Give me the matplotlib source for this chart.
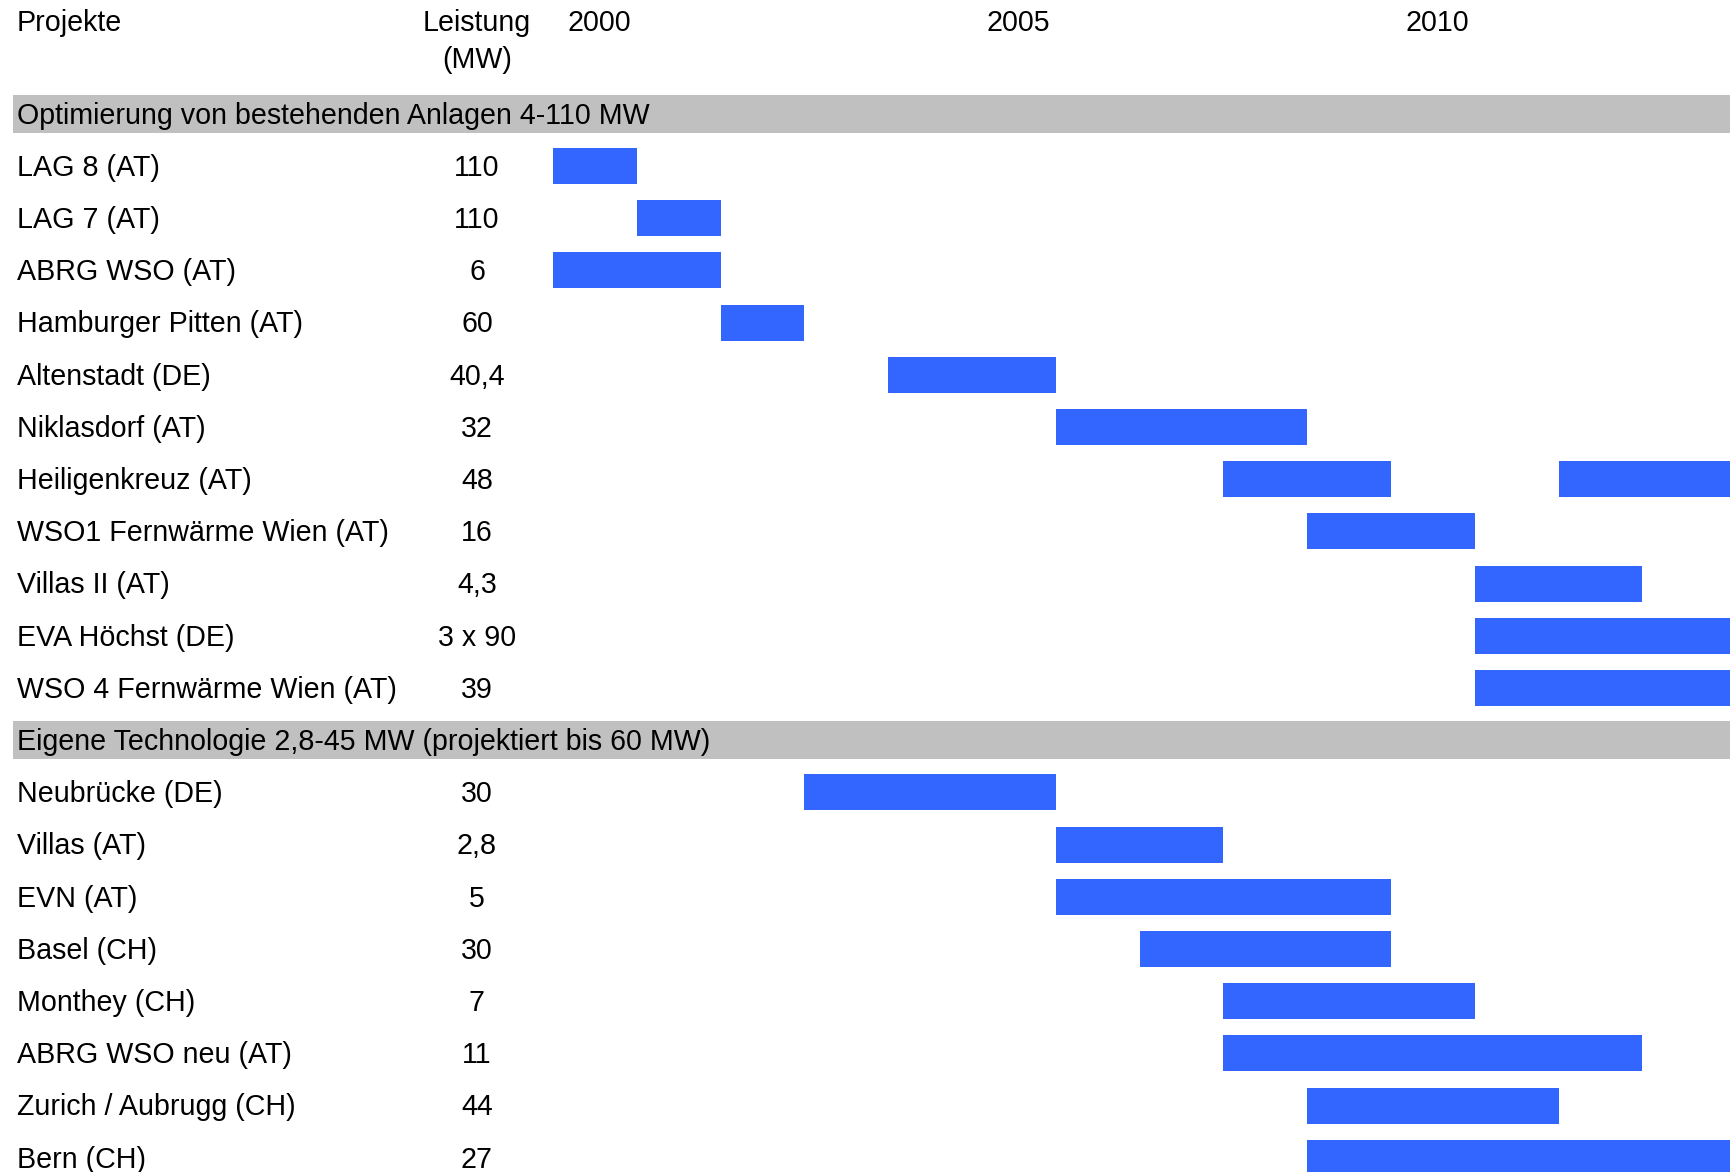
import matplotlib.pyplot as plt
from matplotlib.patches import Rectangle

plt.rcParams['font.family'] = ['Liberation Sans', 'DejaVu Sans']

# data
years = [2000, 2005, 2010]

group1_title = 'Optimierung von bestehenden Anlagen 4-110 MW'
group1_names = ['LAG 8 (AT)', 'LAG 7 (AT)', 'ABRG WSO (AT)', 'Hamburger Pitten (AT)',
                'Altenstadt (DE)', 'Niklasdorf (AT)', 'Heiligenkreuz (AT)',
                'WSO1 Fernwärme Wien (AT)', 'Villas II (AT)', 'EVA Höchst (DE)',
                'WSO 4 Fernwärme Wien (AT)']
group1_power = ['110', '110', '6', '60', '40,4', '32', '48', '16', '4,3', '3 x 90', '39']
group1_spans = [[(2000, 2001)], [(2001, 2002)], [(2000, 2002)], [(2002, 2003)],
                [(2004, 2006)], [(2006, 2009)], [(2008, 2010), (2012, 2015)],
                [(2009, 2011)], [(2011, 2013)], [(2011, 2015)], [(2011, 2015)]]

group2_title = 'Eigene Technologie 2,8-45 MW (projektiert bis 60 MW)'
group2_names = ['Neubrücke (DE)', 'Villas (AT)', 'EVN (AT)', 'Basel (CH)', 'Monthey (CH)',
                'ABRG WSO neu (AT)', 'Zurich / Aubrugg (CH)', 'Bern (CH)']
group2_power = ['30', '2,8', '5', '30', '7', '11', '44', '27']
group2_spans = [[(2003, 2006)], [(2006, 2008)], [(2006, 2010)], [(2007, 2010)],
                [(2008, 2011)], [(2008, 2013)], [(2009, 2012)], [(2009, 2015)]]

W, H = 1731, 1172
fig = plt.figure(figsize=(W / 100, H / 100), dpi=100)
ax = fig.add_axes([0, 0, 1, 1])
ax.axis('off')

px_year = 83.8
x0 = 553
ax.set_xlim(2000 - x0 / px_year, 2000 + (W - x0) / px_year)
pitch = 52.2
y1 = 166
ax.set_ylim(1 + (H - y1) / pitch, 1 + (0 - y1) / pitch)

fs = 20.6
blue = '#3366FF'
gray = '#C0C0C0'
xname = 17 / W
xpow = 477 / W
xgray = 13 / W
dy = 0.035  # text sits slightly below row centre
tr = ax.get_yaxis_transform()

# header
ax.text(xname, -1.73, 'Projekte', transform=tr, fontsize=fs, ha='left', va='center')
ax.text(xpow, -1.73, 'Leistung', transform=tr, fontsize=fs, ha='center', va='center')
ax.text(xpow, -1.03, '(MW)', transform=tr, fontsize=fs, ha='center', va='center')
for yr in years:
    ax.text(yr + 0.55, -1.73, str(yr), fontsize=fs, ha='center', va='center')

row = 0
for title, names, power, spans in [(group1_title, group1_names, group1_power, group1_spans),
                                   (group2_title, group2_names, group2_power, group2_spans)]:
    ax.add_patch(Rectangle((xgray, row - 0.36), 1 - xgray, 0.72,
                           transform=tr, color=gray, lw=0))
    ax.text(xname, row + dy, title, transform=tr, fontsize=fs, ha='left', va='center')
    row += 1
    for name, pw, sp in zip(names, power, spans):
        ax.text(xname, row + dy, name, transform=tr, fontsize=fs, ha='left', va='center')
        ax.text(xpow, row + dy, pw, transform=tr, fontsize=fs, ha='center', va='center')
        for s, e in sp:
            ax.barh(row, e - s, left=s, height=0.69, color=blue, lw=0)
        row += 1

fig.savefig('out.png', dpi=100)
